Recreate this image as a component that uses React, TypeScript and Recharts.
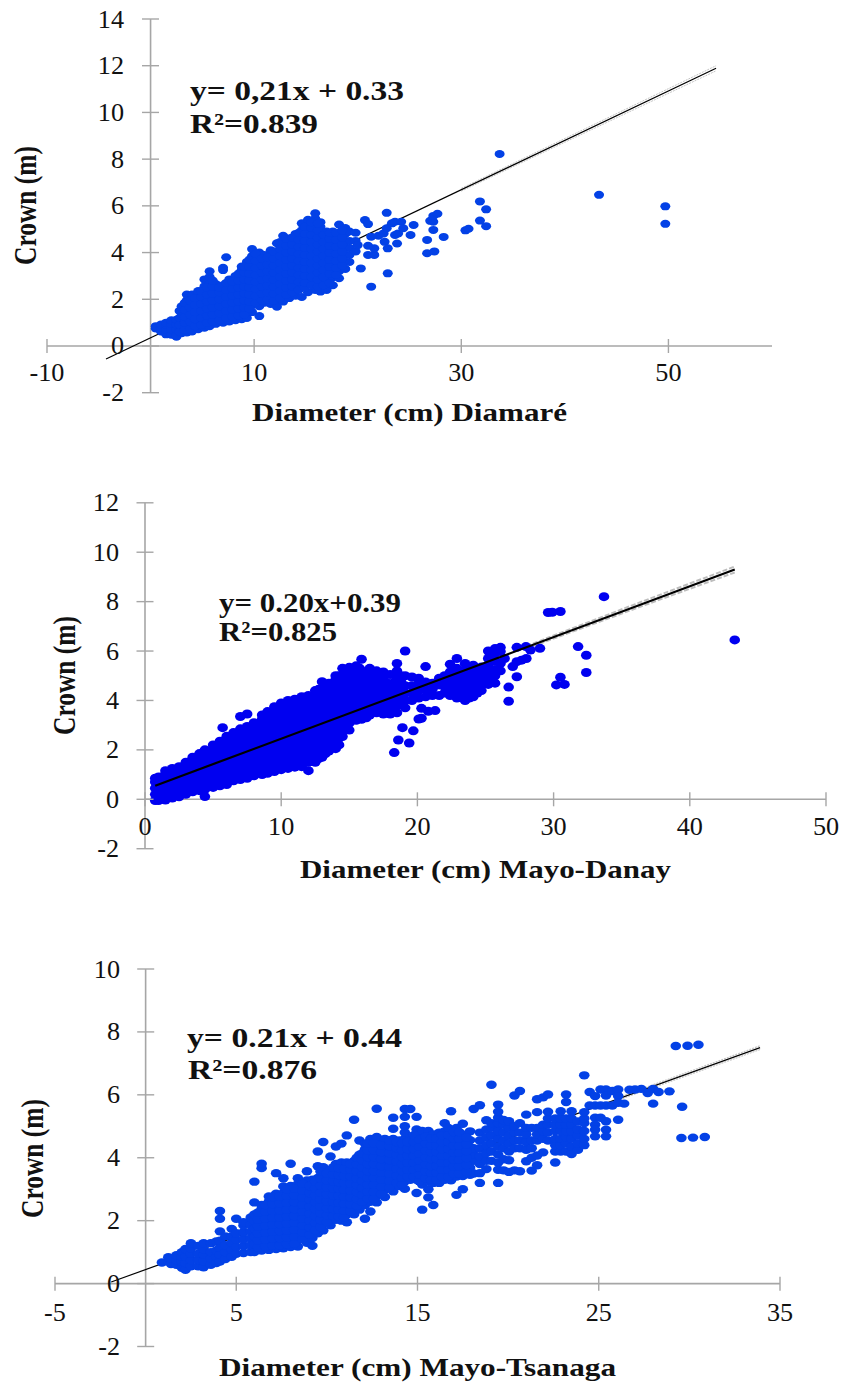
import { ScatterChart, Scatter, XAxis, YAxis, ReferenceLine } from 'recharts';

// each row: one diameter, then the crown values read at that diameter
const diamareCloud = [
  [0.5, .75, .85], [1.0, .62, .78, .92], [1.5, .5, .7, .9, 1.0], [2.0, .48, .72, .95, 1.1],
  [2.5, .4, .45, .7, .92, 1.12], [3.0, .55, .8, 1.05, 1.3, 1.55, 1.7], [3.5, .58, .82, 1.1, 1.4, 1.7, 1.95, 2.2],
  [4.0, .62, .9, 1.2, 1.5, 1.8, 2.1, 2.2], [4.6, .72, 1.0, 1.3, 1.6, 1.9, 2.2, 2.35],
  [5.2, .78, 1.05, 1.35, 1.65, 1.95, 2.25, 2.55, 2.85], [5.7, .85, 1.15, 1.45, 1.75, 2.05, 2.35, 2.65, 2.95, 3.2],
  [6.3, .95, 1.25, 1.55, 1.85, 2.15, 2.45, 2.65], [7.0, 1.0, 1.3, 1.6, 1.9, 2.2, 2.5, 2.6, 3.25, 3.35], [7.3, 3.8],
  [7.6, 1.05, 1.35, 1.65, 1.95, 2.25, 2.55, 2.85], [8.2, 1.1, 1.4, 1.7, 2.0, 2.3, 2.6, 2.9, 3.0],
  [8.8, 1.15, 1.45, 1.75, 2.05, 2.35, 2.65, 2.95, 3.25, 3.4], [9.3, 1.2, 1.5, 1.8, 2.1, 2.4, 2.7, 3.0, 3.3, 3.6],
  [9.8, 1.45, 1.75, 2.05, 2.35, 2.65, 2.95, 3.25, 3.55, 3.85, 4.15], [10.5, 1.28, 1.7, 2.0, 2.3, 2.6, 2.9, 3.2, 3.5, 3.8, 4.0],
  [11.0, 1.85, 2.15, 2.45, 2.75, 3.05, 3.35, 3.65, 3.9], [11.6, 1.8, 2.1, 2.4, 2.7, 3.0, 3.3, 3.6, 3.9, 4.1],
  [12.2, 1.68, 1.95, 2.25, 2.55, 2.85, 3.15, 3.45, 3.75, 4.05, 4.4], [12.8, 1.9, 2.2, 2.5, 2.8, 3.1, 3.4, 3.7, 4.0, 4.3, 4.72],
  [13.4, 2.05, 2.4, 2.7, 3.0, 3.3, 3.6, 3.9, 4.2, 4.6], [14.0, 2.15, 2.6, 2.9, 3.2, 3.5, 3.8, 4.1, 4.4, 4.8],
  [14.6, 2.1, 2.55, 2.85, 3.15, 3.45, 3.75, 4.05, 4.35, 4.65, 4.95, 5.25], [15.2, 2.3, 2.75, 3.0, 3.3, 3.6, 3.9, 4.2, 4.5, 4.8, 5.1, 5.4],
  [15.9, 2.4, 2.8, 3.1, 3.4, 3.7, 4.0, 4.3, 4.6, 4.9, 5.2, 5.45, 5.68], [16.4, 2.33, 2.7, 3.0, 3.3, 3.6, 3.9, 4.2, 4.5, 4.8, 5.1, 5.3],
  [17.0, 2.4, 2.8, 3.1, 3.4, 3.7, 4.0, 4.3, 4.6, 4.9], [17.6, 2.6, 2.95, 3.25, 3.55, 3.85, 4.15, 4.45, 4.75, 4.9],
  [18.2, 2.9, 3.2, 3.5, 3.8, 4.1, 4.4, 4.7, 5.2], [18.8, 3.3, 3.6, 3.9, 4.2, 4.5, 4.8, 5.05], [19.2, 3.6, 3.9, 4.2, 4.5, 4.9],
  [19.8, 4.05, 4.5, 4.85],
];
// second pass of trees sitting between the rows above, inside the dense part
const diamareDense = [
  [2.8, .6, .9, 1.2, 1.5], [3.3, .7, 1.0, 1.25, 1.55, 1.85], [3.8, .75, 1.05, 1.35, 1.65, 1.95], [4.3, .85, 1.15, 1.45, 1.75, 2.05],
  [4.9, .9, 1.2, 1.5, 1.8, 2.1, 2.35], [5.45, 1.0, 1.3, 1.6, 1.9, 2.2, 2.5], [6.0, 1.05, 1.35, 1.65, 1.95, 2.25, 2.55, 2.8],
  [6.65, 1.1, 1.4, 1.7, 2.0, 2.3, 2.5], [7.3, 1.2, 1.5, 1.8, 2.1, 2.4, 2.7], [7.9, 1.25, 1.55, 1.85, 2.15, 2.45, 2.75],
  [8.5, 1.3, 1.6, 1.9, 2.2, 2.5, 2.8, 3.1], [9.05, 1.35, 1.65, 1.95, 2.25, 2.55, 2.85, 3.15, 3.4], [9.55, 1.6, 1.9, 2.2, 2.5, 2.8, 3.1, 3.4, 3.7],
  [10.15, 1.85, 2.15, 2.45, 2.75, 3.05, 3.35, 3.65, 3.95], [10.75, 1.95, 2.25, 2.55, 2.85, 3.15, 3.45, 3.75], [11.3, 2.0, 2.3, 2.6, 2.9, 3.2, 3.5, 3.8],
  [11.9, 1.95, 2.25, 2.55, 2.85, 3.15, 3.45, 3.75, 4.05], [12.5, 2.05, 2.35, 2.65, 2.95, 3.25, 3.55, 3.85, 4.15, 4.45], [13.1, 2.2, 2.5, 2.8, 3.1, 3.4, 3.7, 4.0, 4.3, 4.6],
  [13.7, 2.3, 2.55, 2.85, 3.15, 3.45, 3.75, 4.05, 4.35, 4.65], [14.3, 2.4, 2.75, 3.05, 3.35, 3.65, 3.95, 4.25, 4.55, 4.85], [14.9, 2.5, 2.7, 3.0, 3.3, 3.6, 3.9, 4.2, 4.5, 4.8, 5.1],
  [15.55, 2.6, 2.95, 3.25, 3.55, 3.85, 4.15, 4.45, 4.75, 5.05, 5.3], [16.15, 2.55, 2.85, 3.15, 3.45, 3.75, 4.05, 4.35, 4.65, 4.95, 5.25], [16.7, 2.6, 2.95, 3.25, 3.55, 3.85, 4.15, 4.45, 4.75],
  [17.3, 2.7, 3.1, 3.4, 3.7, 4.0, 4.3, 4.6, 4.85], [17.9, 3.05, 3.35, 3.65, 3.95, 4.25, 4.55, 4.85], [18.5, 3.45, 3.75, 4.05, 4.35, 4.65, 4.95],
];
const diamareScattered = [
  [20.0, 4.32], [20.3, 3.32], [20.7, 5.39], [21.0, 5.22], [21.3, 2.54], [21.0, 3.9], [21.6, 3.9], [21.6, 4.18], [21.0, 4.29],
  [21.3, 4.68], [22.0, 4.72], [22.5, 4.82], [22.8, 5.7], [22.8, 5.04], [22.6, 4.46], [22.9, 4.18], [22.9, 3.11], [23.3, 5.25],
  [23.6, 5.32], [24.2, 5.32], [23.6, 4.75], [23.9, 4.82], [23.8, 4.39], [24.4, 5.04], [25.1, 4.75], [25.4, 5.18], [26.7, 4.54],
  [26.7, 3.97], [27.4, 4.05], [27.3, 4.97], [28.3, 4.67], [27.0, 5.36], [27.3, 5.32], [27.3, 5.57], [27.7, 5.66], [30.4, 4.95],
  [30.7, 5.02], [31.8, 6.19], [32.4, 5.85], [31.8, 5.37], [32.4, 5.13], [33.7, 8.22], [43.3, 6.47], [49.7, 5.98], [49.7, 5.23],
];
const diamareTrend = [[-4.3, -0.56], [54.6, 11.89]];
const diamareBandUpper = [[30, 6.75], [54.6, 12.0]];
const diamareBandLower = [[30, 6.63], [54.6, 11.78]];

const danayCloud = [
  [.75, -.05, .2, .45, .7, .85], [1.0, -.05, .15, .4, .65, .9], [1.5, -.03, .22, .5, .78, 1.0, 1.16], [2.0, .05, .3, .58, .86, 1.1, 1.25],
  [2.5, .1, .38, .66, .94, 1.2, 1.32], [3.0, .2, .45, .73, 1.0, 1.28, 1.5], [3.5, .3, .55, .83, 1.1, 1.38, 1.7],
  [4.0, .35, .62, .9, 1.18, 1.46, 1.7, 1.85], [4.4, .11, .4, .7, 1.0, 1.28, 1.56, 1.84, 2.0], [5.0, .48, .76, 1.04, 1.32, 1.6, 1.88, 2.2],
  [5.5, .55, .83, 1.11, 1.39, 1.67, 1.95, 2.2, 2.35], [6.0, .6, .88, 1.16, 1.44, 1.72, 2.0, 2.28, 2.55], [5.7, 2.9],
  [6.5, .75, 1.03, 1.31, 1.59, 1.87, 2.15, 2.43, 2.7], [7.0, .8, 1.08, 1.36, 1.64, 1.92, 2.2, 2.48, 2.76, 2.85, 3.35],
  [7.5, .85, 1.13, 1.41, 1.69, 1.97, 2.25, 2.53, 2.81, 2.95, 3.45], [8.0, .95, 1.23, 1.51, 1.79, 2.07, 2.35, 2.63, 2.91, 3.1],
  [8.6, 1.0, 1.28, 1.56, 1.84, 2.12, 2.4, 2.68, 2.96, 3.24, 3.41], [9.0, 1.05, 1.33, 1.61, 1.89, 2.17, 2.45, 2.73, 3.01, 3.29, 3.55],
  [9.5, 1.12, 1.4, 1.68, 1.96, 2.24, 2.52, 2.8, 3.08, 3.36, 3.75], [10.0, 1.2, 1.48, 1.76, 2.04, 2.32, 2.6, 2.88, 3.16, 3.44, 3.72, 3.9],
  [10.5, 1.25, 1.53, 1.81, 2.09, 2.37, 2.65, 2.93, 3.21, 3.49, 3.77, 4.0], [11.0, 1.3, 1.58, 1.86, 2.14, 2.42, 2.7, 2.98, 3.26, 3.54, 3.82, 4.05],
  [11.5, 1.32, 1.6, 1.88, 2.16, 2.44, 2.72, 3.0, 3.28, 3.56, 3.84, 4.15], [12.0, 1.16, 1.5, 1.78, 2.06, 2.34, 2.62, 2.9, 3.18, 3.46, 3.74, 4.02, 4.2],
  [12.5, 1.5, 1.78, 2.06, 2.34, 2.62, 2.9, 3.18, 3.46, 3.74, 4.02, 4.4], [13.0, 1.7, 1.98, 2.26, 2.54, 2.82, 3.1, 3.38, 3.66, 3.94, 4.22, 4.5, 4.76],
  [13.5, 1.95, 2.23, 2.51, 2.79, 3.07, 3.35, 3.63, 3.91, 4.19, 4.47, 4.7], [14.0, 2.05, 2.33, 2.61, 2.89, 3.17, 3.45, 3.73, 4.01, 4.29, 4.57, 4.85, 5.0],
  [14.5, 2.54, 2.8, 3.08, 3.36, 3.64, 3.92, 4.2, 4.48, 4.76, 5.04, 5.3], [15.0, 2.8, 3.08, 3.36, 3.64, 3.92, 4.2, 4.48, 4.76, 5.04, 5.34],
  [15.5, 3.2, 3.48, 3.76, 4.04, 4.32, 4.6, 4.88, 5.16, 5.4], [15.9, 3.24, 3.52, 3.8, 4.08, 4.36, 4.64, 4.92, 5.2, 5.67],
  [16.5, 3.41, 3.69, 3.97, 4.25, 4.53, 4.81, 5.09, 5.3], [17.0, 3.5, 3.78, 4.06, 4.34, 4.62, 4.9, 5.2], [17.5, 3.45, 3.73, 4.01, 4.29, 4.57, 4.85, 5.15],
  [18.0, 3.45, 3.73, 4.01, 4.29, 4.6, 5.05], [18.5, 3.5, 3.78, 4.06, 4.34, 4.62, 4.9, 5.2, 5.5], [19.1, 3.7, 4.0, 4.3, 4.6, 5.0, 6.0],
  [19.6, 4.0, 4.3, 4.6, 4.95], [20.1, 4.1, 4.4, 4.7, 4.9], [20.6, 4.15, 4.45, 4.75, 5.37], [21.1, 4.2, 4.45, 4.7], [21.6, 4.2, 4.63, 4.9],
  [22.0, 4.3, 4.55, 4.8, 5.0], [22.4, 4.2, 4.45, 4.7, 4.95, 5.15, 5.47], [22.9, 4.1, 4.35, 4.6, 4.85, 5.1, 5.3, 5.7],
  [23.5, 4.0, 4.25, 4.5, 4.75, 5.0, 5.25, 5.5], [24.1, 4.15, 4.4, 4.65, 4.9, 5.15, 5.43], [24.7, 4.4, 4.65, 4.9, 5.15, 5.35],
  [25.2, 4.65, 4.9, 5.15, 5.4, 5.7, 6.0], [25.7, 4.7, 5.0, 5.25, 5.6, 5.9, 6.1], [26.1, 5.2, 5.5, 5.98, 6.15],
];
const danayDense = [
  [1.25, .1, .38, .66, .9], [1.75, .15, .43, .71, .99], [2.25, .2, .48, .76, 1.04], [2.75, .3, .58, .86, 1.14], [3.25, .35, .63, .91, 1.19],
  [3.75, .45, .73, 1.01, 1.29, 1.5], [4.25, .5, .78, 1.06, 1.34, 1.62], [4.7, .6, .88, 1.16, 1.44, 1.72, 1.95], [5.25, .65, .93, 1.21, 1.49, 1.77, 2.05],
  [5.75, .72, 1.0, 1.28, 1.56, 1.84, 2.12], [6.25, .8, 1.08, 1.36, 1.64, 1.92, 2.2, 2.45], [6.75, .9, 1.18, 1.46, 1.74, 2.02, 2.3, 2.58],
  [7.25, .95, 1.23, 1.51, 1.79, 2.07, 2.35, 2.63], [7.75, 1.02, 1.3, 1.58, 1.86, 2.14, 2.42, 2.7], [8.3, 1.1, 1.38, 1.66, 1.94, 2.22, 2.5, 2.78, 3.06],
  [8.8, 1.15, 1.43, 1.71, 1.99, 2.27, 2.55, 2.83, 3.11, 3.39], [9.25, 1.25, 1.53, 1.81, 2.09, 2.37, 2.65, 2.93, 3.21, 3.49], [9.75, 1.3, 1.58, 1.86, 2.14, 2.42, 2.7, 2.98, 3.26, 3.54],
  [10.25, 1.38, 1.66, 1.94, 2.22, 2.5, 2.78, 3.06, 3.34, 3.62, 3.86], [10.75, 1.42, 1.7, 1.98, 2.26, 2.54, 2.82, 3.1, 3.38, 3.66, 3.9], [11.25, 1.45, 1.73, 2.01, 2.29, 2.57, 2.85, 3.13, 3.41, 3.69, 3.95],
  [11.75, 1.5, 1.78, 2.06, 2.34, 2.62, 2.9, 3.18, 3.46, 3.74, 4.02], [12.25, 1.65, 1.93, 2.21, 2.49, 2.77, 3.05, 3.33, 3.61, 3.89, 4.17], [12.75, 1.65, 1.93, 2.21, 2.49, 2.77, 3.05, 3.33, 3.61, 3.89, 4.17, 4.45],
  [13.25, 1.85, 2.13, 2.41, 2.69, 2.97, 3.25, 3.53, 3.81, 4.09, 4.37, 4.6], [13.75, 2.1, 2.38, 2.66, 2.94, 3.22, 3.5, 3.78, 4.06, 4.34, 4.62], [14.25, 2.2, 2.48, 2.76, 3.04, 3.32, 3.6, 3.88, 4.16, 4.44, 4.72, 5.0],
  [14.75, 2.95, 3.23, 3.51, 3.79, 4.07, 4.35, 4.63, 4.91, 5.19], [15.25, 3.22, 3.5, 3.78, 4.06, 4.34, 4.62, 4.9, 5.18], [15.75, 3.35, 3.63, 3.91, 4.19, 4.47, 4.75, 5.03, 5.31],
  [16.25, 3.3, 3.58, 3.86, 4.14, 4.42, 4.7, 4.98], [16.75, 3.6, 3.88, 4.16, 4.44, 4.72, 5.0], [17.25, 3.6, 3.88, 4.16, 4.44, 4.72, 5.0], [17.75, 3.6, 3.88, 4.16, 4.44, 4.72],
  [18.25, 3.6, 3.88, 4.16, 4.44, 4.72], [18.8, 3.85, 4.15, 4.45, 4.75, 5.0], [23.2, 4.15, 4.4, 4.65, 4.9, 5.15], [23.8, 4.1, 4.35, 4.6, 4.85, 5.1, 5.3],
  [24.4, 4.3, 4.55, 4.8, 5.05, 5.3],
];
const danayScattered = [
  [18.3, 1.89], [18.6, 2.4], [18.9, 2.9], [19.7, 2.77], [19.4, 2.28], [20.1, 3.25], [20.3, 3.28], [20.3, 3.68], [21.3, 3.59], [20.8, 3.56],
  [26.4, 5.7], [27.3, 6.15], [27.97, 6.18], [28.3, 6.04], [29.0, 6.11], [28.0, 5.7], [27.65, 5.63], [27.3, 5.57], [27.0, 5.37], [27.3, 4.96],
  [26.7, 4.54], [26.7, 3.97], [29.9, 7.57], [30.5, 7.6], [29.6, 7.56], [33.7, 8.2], [31.8, 6.18], [32.4, 5.83], [32.4, 5.13], [30.5, 4.94],
  [30.2, 4.63], [30.8, 4.65], [43.3, 6.45],
];
const danayTrend = [[.75, .55], [43.3, 9.3]];
const danayBandUpper = [[28, 6.2], [36, 7.9], [43.3, 9.42]];
const danayBandLower = [[28, 6.1], [36, 7.72], [43.3, 9.18]];

const tsanagaCloud = [
  [.9, .67], [1.25, .72, .84], [1.4, .62, .8], [1.7, .6, .75, .9], [2.0, .5, .7, .85, 1.0], [2.2, .44, .65, .85, 1.1], [2.5, .55, .75, .95, 1.12, 1.28],
  [2.9, .55, .75, .95, 1.2], [3.2, .52, .72, .92, 1.1, 1.28], [3.6, .6, .8, 1.0, 1.28], [3.9, .65, .85, 1.05, 1.34],
  [4.1, .7, .92, 1.14, 1.36, 1.66, 2.06, 2.31], [4.4, .78, 1.0, 1.22, 1.5], [4.75, .85, 1.07, 1.29, 1.5, 1.74], [5.0, .95, 1.17, 1.39, 1.6, 2.06],
  [5.4, .97, 1.19, 1.41, 1.63, 1.85, 1.95], [5.8, 1.0, 1.22, 1.44, 1.66, 1.88, 2.1], [6.0, 1.0, 1.25, 1.5, 1.75, 2.0, 2.2, 2.58, 3.24],
  [6.4, 1.05, 1.27, 1.49, 1.71, 1.93, 2.15, 2.37, 2.5, 3.67, 3.81], [6.8, 1.07, 1.29, 1.51, 1.73, 1.95, 2.17, 2.39, 2.61, 2.77],
  [7.2, 1.1, 1.32, 1.54, 1.76, 1.98, 2.2, 2.42, 2.64, 2.86, 3.51], [7.6, 1.12, 1.34, 1.56, 1.78, 2.0, 2.22, 2.44, 2.66, 2.88, 3.09, 3.35],
  [8.0, 1.16, 1.38, 1.6, 1.82, 2.04, 2.26, 2.48, 2.7, 2.92, 3.1, 3.81], [8.4, 1.18, 1.4, 1.62, 1.84, 2.06, 2.28, 2.5, 2.72, 2.94, 3.16, 3.35],
  [8.9, 1.3, 1.52, 1.74, 1.96, 2.18, 2.4, 2.62, 2.84, 3.06, 3.28, 3.57], [9.2, 1.2, 1.45, 1.67, 1.89, 2.11, 2.33, 2.55, 2.77, 2.99, 3.21, 3.3],
  [9.5, 1.6, 1.82, 2.04, 2.26, 2.48, 2.7, 2.92, 3.14, 3.36, 3.73, 4.2], [9.8, 1.69, 1.91, 2.13, 2.35, 2.57, 2.79, 3.01, 3.23, 3.45, 3.7, 4.5],
  [10.2, 1.85, 2.07, 2.29, 2.51, 2.73, 2.95, 3.17, 3.39, 3.61, 4.04], [10.5, 2.03, 2.25, 2.47, 2.69, 2.91, 3.13, 3.35, 3.57, 3.8, 4.36],
  [10.8, 2.0, 2.22, 2.44, 2.66, 2.88, 3.1, 3.32, 3.54, 3.76, 3.85, 4.45], [11.1, 1.95, 2.2, 2.42, 2.64, 2.86, 3.08, 3.3, 3.52, 3.74, 3.85, 4.71],
  [11.5, 2.2, 2.42, 2.64, 2.86, 3.08, 3.3, 3.52, 3.74, 3.9, 5.21], [11.8, 2.35, 2.57, 2.79, 3.01, 3.23, 3.45, 3.67, 3.89, 4.1, 4.55],
  [12.1, 2.06, 2.5, 2.72, 2.94, 3.16, 3.38, 3.6, 3.82, 4.04, 4.26, 4.45], [12.4, 2.29, 2.6, 2.82, 3.04, 3.26, 3.48, 3.7, 3.92, 4.14, 4.36, 4.6],
  [12.75, 2.58, 2.8, 3.02, 3.24, 3.46, 3.68, 3.9, 4.12, 4.34, 4.56, 4.66, 5.56], [13.2, 2.75, 2.97, 3.19, 3.41, 3.63, 3.85, 4.07, 4.29, 4.51, 4.6],
  [13.66, 2.93, 3.15, 3.37, 3.59, 3.81, 4.03, 4.25, 4.47, 4.6, 4.92, 5.27], [14.0, 3.1, 3.32, 3.54, 3.76, 3.98, 4.2, 4.42, 4.55],
  [14.3, 3.01, 3.25, 3.47, 3.69, 3.91, 4.13, 4.35, 4.6, 4.8, 5.0, 5.3, 5.55], [14.6, 3.3, 3.52, 3.74, 3.96, 4.18, 4.4, 4.62, 5.55],
  [14.95, 2.88, 3.3, 3.52, 3.74, 3.96, 4.18, 4.4, 4.62, 4.9, 5.3], [15.26, 2.35, 3.15, 3.37, 3.59, 3.81, 4.03, 4.25, 4.47, 4.69, 4.85],
  [15.6, 2.74, 3.0, 3.25, 3.47, 3.69, 3.91, 4.13, 4.35, 4.57, 4.85], [15.87, 2.5, 3.2, 3.42, 3.64, 3.86, 4.08, 4.3, 4.52, 4.74],
  [16.2, 3.2, 3.42, 3.64, 3.86, 4.08, 4.3, 4.52, 4.8], [16.5, 3.3, 3.52, 3.74, 3.96, 4.18, 4.4, 4.62, 4.84, 5.1], [16.85, 3.28, 3.5, 3.72, 3.94, 4.16, 4.38, 4.6, 4.82, 5.48],
  [17.15, 2.82, 3.4, 3.62, 3.84, 4.06, 4.28, 4.5, 4.72, 4.95], [17.5, 3.0, 3.42, 3.64, 3.86, 4.08, 4.3, 4.52, 4.74, 5.08], [17.9, 3.46, 3.68, 3.9, 4.12, 4.34, 4.56, 4.84],
  [18.1, 3.5, 3.9, 4.1, 4.3, 5.55], [18.44, 3.2, 3.51, 3.8, 4.05, 4.3, 4.55, 4.8, 5.67], [18.8, 3.64, 3.9, 4.15, 4.4, 4.65, 4.9, 5.19],
  [19.08, 3.9, 4.2, 4.45, 4.7, 4.95, 5.1, 6.32], [19.45, 3.2, 3.62, 3.85, 4.1, 4.35, 4.6, 4.85, 5.1, 5.27, 5.46, 5.69], [19.75, 3.6, 3.95, 4.3, 4.55, 4.8, 5.05, 5.2],
  [20.05, 3.55, 3.92, 4.2, 4.45, 4.7, 4.95, 5.16], [20.35, 3.6, 4.3, 4.55, 4.8, 5.0, 5.98], [20.65, 3.57, 4.3, 4.55, 4.8, 5.1, 6.12],
  [21.0, 3.89, 4.25, 4.5, 4.75, 4.95, 5.37], [21.3, 3.59, 4.0, 4.3, 4.55, 4.95], [21.6, 3.76, 4.07, 4.55, 4.75, 4.95, 5.45, 5.86], [21.93, 4.17, 4.6, 4.85, 5.05, 5.92],
  [22.2, 4.55, 4.8, 5.05, 5.25, 5.46, 6.01], [22.6, 3.85, 4.2, 4.4, 4.6, 4.85, 5.05, 5.25], [22.9, 4.2, 4.4, 4.6, 4.85, 5.05, 5.25, 5.48],
  [23.2, 4.2, 4.45, 4.65, 4.85, 5.05, 5.25, 5.77, 6.01], [23.5, 4.12, 4.35, 4.6, 4.85, 5.05, 5.25, 5.48], [23.85, 4.25, 4.45, 4.7, 4.9, 5.15],
  [24.2, 4.4, 4.6, 4.85, 5.1, 5.25, 5.45, 6.62],
];
const tsanagaDense = [
  [6.2, 1.15, 1.38, 1.6, 1.82, 2.04, 2.26], [6.6, 1.18, 1.4, 1.62, 1.84, 2.06, 2.28, 2.5], [7.0, 1.2, 1.43, 1.65, 1.87, 2.09, 2.31, 2.53, 2.75],
  [7.4, 1.22, 1.45, 1.67, 1.89, 2.11, 2.33, 2.55, 2.77], [7.8, 1.25, 1.47, 1.69, 1.91, 2.13, 2.35, 2.57, 2.79, 3.0], [8.2, 1.27, 1.49, 1.71, 1.93, 2.15, 2.37, 2.59, 2.81, 3.03],
  [8.65, 1.41, 1.63, 1.85, 2.07, 2.29, 2.51, 2.73, 2.95, 3.17], [9.05, 1.55, 1.78, 2.0, 2.22, 2.44, 2.66, 2.88, 3.1], [9.35, 1.7, 1.93, 2.15, 2.37, 2.59, 2.81, 3.03, 3.25],
  [9.65, 1.8, 2.02, 2.24, 2.46, 2.68, 2.9, 3.12, 3.34, 3.56], [10.0, 1.96, 2.18, 2.4, 2.62, 2.84, 3.06, 3.28, 3.5], [10.35, 2.15, 2.37, 2.59, 2.81, 3.03, 3.25, 3.47, 3.7],
  [10.65, 2.13, 2.35, 2.57, 2.79, 3.01, 3.23, 3.45, 3.67], [10.95, 2.1, 2.32, 2.54, 2.76, 2.98, 3.2, 3.42, 3.64], [11.3, 2.3, 2.52, 2.74, 2.96, 3.18, 3.4, 3.62, 3.8],
  [11.65, 2.47, 2.69, 2.91, 3.13, 3.35, 3.57, 3.79, 4.0], [11.95, 2.6, 2.82, 3.04, 3.26, 3.48, 3.7, 3.92, 4.14], [12.25, 2.7, 2.92, 3.14, 3.36, 3.58, 3.8, 4.02, 4.24, 4.46],
  [12.6, 2.7, 2.92, 3.14, 3.36, 3.58, 3.8, 4.02, 4.24, 4.46], [13.0, 2.85, 3.08, 3.3, 3.52, 3.74, 3.96, 4.18, 4.4], [13.45, 3.05, 3.27, 3.49, 3.71, 3.93, 4.15, 4.37, 4.55],
  [13.85, 3.2, 3.43, 3.65, 3.87, 4.09, 4.31, 4.5], [14.15, 3.15, 3.36, 3.58, 3.8, 4.02, 4.24, 4.46], [14.45, 3.4, 3.62, 3.84, 4.06, 4.28, 4.5], [14.8, 3.4, 3.62, 3.84, 4.06, 4.28, 4.5, 4.72],
  [15.1, 3.25, 3.47, 3.69, 3.91, 4.13, 4.35, 4.57], [15.45, 3.35, 3.57, 3.79, 4.01, 4.23, 4.45, 4.67], [15.75, 3.3, 3.52, 3.74, 3.96, 4.18, 4.4, 4.62], [16.05, 3.3, 3.52, 3.74, 3.96, 4.18, 4.4, 4.62],
  [16.35, 3.4, 3.62, 3.84, 4.06, 4.28, 4.5, 4.72], [16.7, 3.4, 3.62, 3.84, 4.06, 4.28, 4.5, 4.72, 4.95], [17.0, 3.5, 3.72, 3.94, 4.16, 4.38, 4.6, 4.82], [17.3, 3.5, 3.72, 3.94, 4.16, 4.38, 4.6, 4.82],
  [17.7, 3.55, 3.77, 3.99, 4.21, 4.43, 4.65],
];
const tsanagaScattered = [
  [24.5, 5.66], [24.5, 6.09], [24.8, 5.96], [24.8, 5.66], [24.8, 5.27], [24.8, 5.05], [24.8, 4.89], [24.8, 4.68], [25.1, 6.17], [25.1, 5.66], [25.1, 5.27],
  [25.4, 6.17], [25.4, 5.98], [25.4, 5.66], [25.4, 5.16], [25.4, 4.89], [25.4, 4.68], [25.75, 6.12], [25.75, 5.66], [26.07, 6.17], [26.07, 5.96], [26.07, 5.75],
  [26.07, 5.21], [26.4, 5.72], [26.7, 6.16], [27.0, 6.17], [27.35, 6.19], [27.7, 6.06], [28.0, 6.19], [28.0, 5.72], [28.3, 6.09], [28.9, 6.11], [29.6, 5.62],
  [29.25, 7.55], [29.9, 7.56], [30.5, 7.59], [29.56, 4.63], [30.2, 4.64], [30.85, 4.66],
];
const tsanagaTrend = [[-1.9, .05], [33.9, 7.5]];
const tsanagaBandUpper = [[26, 5.9], [33.9, 7.56]];
const tsanagaBandLower = [[26, 5.82], [33.9, 7.44]];

const diamareXTicks = [-10, 10, 30, 50];
const diamareYTicks = [-2, 0, 2, 4, 6, 8, 10, 12, 14];
const danayXTicks = [0, 10, 20, 30, 40, 50];
const danayYTicks = [-2, 0, 2, 4, 6, 8, 10, 12];
const tsanagaXTicks = [-5, 5, 15, 25, 35];
const tsanagaYTicks = [-2, 0, 2, 4, 6, 8, 10];

const SERIF = '"Liberation Serif", "Times New Roman", serif';
const AXIS_GREY = '#a6a6a6';

const fromRows = (rows: number[][]) => rows.flatMap(([x, ...ys]) => ys.map(y => ({ x, y })));
const fromPairs = (pairs: number[][]) => pairs.map(([x, y]) => ({ x, y }));
const labelWidth = (v: number) => String(Math.abs(v)).length * 13.1 + (v < 0 ? 8.7 : 0);

function NoMark() {
  return null;
}

function Panel(props: any) {
  const { top, height, left, right, plotTop, plotBottom, xDomain, yDomain, xTicks, yTicks, axisX, axisY, yLabelRight, xLabelY,
    color, rx, ry, cloud, dense, scattered, trend, upper, lower, trendOnTop, trendWidth, bandStyle, title, eq, r2, crown } = props;
  const dots = [...fromRows(cloud), ...fromRows(dense), ...fromPairs(scattered)];
  const dot = (p: any) => <ellipse cx={p.cx} cy={p.cy} rx={rx} ry={ry} fill={color} />;
  const trendSeries = (
    <Scatter data={fromPairs(trend)} dataKey="y" line={{ stroke: '#000', strokeWidth: trendWidth }} shape={NoMark} isAnimationActive={false} />
  );
  const textStyle = { fontFamily: SERIF, fontWeight: 700, fontSize: 26, fill: '#111' };
  const eqStyle = { ...textStyle, fontSize: 28 };
  const tickStyle = { fontFamily: SERIF, fontSize: 25.5, fill: '#111' };
  return (
    <div style={{ position: 'absolute', left: 0, top }}>
      <ScatterChart width={845} height={height} margin={{ top: plotTop - top, bottom: top + height - plotBottom - 1, left: left - 1, right: 845 - right }}>
        <XAxis
          type="number"
          dataKey="x"
          domain={xDomain}
          ticks={xTicks}
          interval={0}
          height={1}
          axisLine={false}
          tickLine={false}
          allowDataOverflow
          tick={(t: any) => (
            <g>
              <line x1={t.x} x2={t.x} y1={axisY - top - 7} y2={axisY - top + 7} stroke={AXIS_GREY} strokeWidth={1.4} />
              <text x={t.x} y={xLabelY - top} textAnchor="middle" textLength={labelWidth(t.payload.value)} lengthAdjust="spacingAndGlyphs"
                style={tickStyle}>{t.payload.value}</text>
            </g>
          )}
        />
        <YAxis
          type="number"
          dataKey="y"
          domain={yDomain}
          ticks={yTicks}
          interval={0}
          width={1}
          axisLine={false}
          tickLine={false}
          allowDataOverflow
          tick={(t: any) => (
            <g>
              <line x1={axisX - 8.5} x2={axisX + 8.5} y1={t.y} y2={t.y} stroke={AXIS_GREY} strokeWidth={1.4} />
              <text x={yLabelRight} y={t.y + 8.5} textAnchor="end" textLength={labelWidth(t.payload.value)} lengthAdjust="spacingAndGlyphs"
                style={tickStyle}>{t.payload.value}</text>
            </g>
          )}
        />
        <ReferenceLine x={0} stroke={AXIS_GREY} strokeWidth={1.6} />
        <ReferenceLine y={0} stroke={AXIS_GREY} strokeWidth={1.6} />
        <Scatter data={fromPairs(upper)} dataKey="y" line={bandStyle} shape={NoMark} isAnimationActive={false} />
        <Scatter data={fromPairs(lower)} dataKey="y" line={bandStyle} shape={NoMark} isAnimationActive={false} />
        {!trendOnTop && trendSeries}
        <Scatter data={dots} dataKey="y" shape={dot} isAnimationActive={false} />
        {trendOnTop && trendSeries}
        <text x={eq.x} y={eq.y - top} textLength={eq.w} lengthAdjust="spacingAndGlyphs" style={eqStyle}>{eq.text}</text>
        <text x={r2.x} y={r2.y - top} textLength={r2.w} lengthAdjust="spacingAndGlyphs" style={eqStyle}>{r2.text}</text>
        <text x={title.x} y={title.y - top} textLength={title.w} lengthAdjust="spacingAndGlyphs" style={textStyle}>{title.text}</text>
        <text transform={`translate(${crown.x},${crown.y - top}) rotate(-90) scale(1,1.22)`} textLength={crown.w} lengthAdjust="spacingAndGlyphs" style={textStyle}>Crown (m)</text>
      </ScatterChart>
    </div>
  );
}

export default function App() {
  return (
    <div style={{ position: 'absolute', left: 0, top: 0, width: 845, height: 1383, background: '#fff' }}>
      <Panel
        top={0} height={430} left={47} right={772} plotTop={19} plotBottom={392.7}
        xDomain={[-10, 60]} yDomain={[-2, 14]} xTicks={diamareXTicks} yTicks={diamareYTicks}
        axisX={150.5} axisY={346} yLabelRight={124} xLabelY={381}
        color="#0341e6" rx={5} ry={4} cloud={diamareCloud} dense={diamareDense} scattered={diamareScattered}
        trend={diamareTrend} upper={diamareBandUpper} lower={diamareBandLower} trendWidth={1.2}
        bandStyle={{ stroke: '#c4c4c4', strokeWidth: 1, strokeDasharray: '2 1' }}
        eq={{ x: 190, y: 100, w: 214, text: 'y= 0,21x + 0.33' }}
        r2={{ x: 190, y: 133, w: 128, text: 'R²=0.839' }}
        title={{ x: 252, y: 421, w: 315, text: 'Diameter (cm) Diamaré' }}
        crown={{ x: 36, y: 265, w: 119 }}
      />
      <Panel
        top={480} height={410} left={145} right={826} plotTop={502.8} plotBottom={848.7}
        xDomain={[0, 50]} yDomain={[-2, 12]} xTicks={danayXTicks} yTicks={danayYTicks}
        axisX={145} axisY={799.3} yLabelRight={119} xLabelY={835}
        color="#0000f0" rx={5.3} ry={4.5} cloud={danayCloud} dense={danayDense} scattered={danayScattered}
        trend={danayTrend} upper={danayBandUpper} lower={danayBandLower} trendWidth={2.2} trendOnTop
        bandStyle={{ stroke: '#bdbdbd', strokeWidth: 2, strokeDasharray: '5 2' }}
        eq={{ x: 219, y: 612, w: 182, text: 'y= 0.20x+0.39' }}
        r2={{ x: 219, y: 641, w: 118, text: 'R²=0.825' }}
        title={{ x: 300, y: 878, w: 371, text: 'Diameter (cm) Mayo-Danay' }}
        crown={{ x: 75, y: 735, w: 119 }}
      />
      <Panel
        top={950} height={433} left={55} right={780} plotTop={969} plotBottom={1346.5}
        xDomain={[-5, 35]} yDomain={[-2, 10]} xTicks={tsanagaXTicks} yTicks={tsanagaYTicks}
        axisX={145.7} axisY={1283.7} yLabelRight={120} xLabelY={1321}
        color="#0341e6" rx={5.3} ry={4.2} cloud={tsanagaCloud} dense={tsanagaDense} scattered={tsanagaScattered}
        trend={tsanagaTrend} upper={tsanagaBandUpper} lower={tsanagaBandLower} trendWidth={1.2}
        bandStyle={{ stroke: '#c4c4c4', strokeWidth: 1.2, strokeDasharray: '2 1' }}
        eq={{ x: 187, y: 1047, w: 215, text: 'y= 0.21x + 0.44' }}
        r2={{ x: 188, y: 1079, w: 129, text: 'R²=0.876' }}
        title={{ x: 219, y: 1376, w: 397, text: 'Diameter (cm) Mayo-Tsanaga' }}
        crown={{ x: 43, y: 1218, w: 119 }}
      />
    </div>
  );
}
